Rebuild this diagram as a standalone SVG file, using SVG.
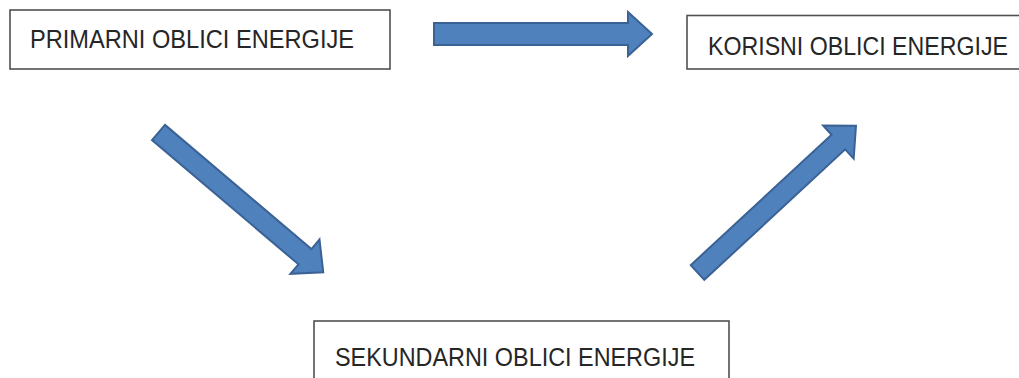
<svg xmlns="http://www.w3.org/2000/svg" width="1019" height="378" viewBox="0 0 1019 378">
  <style>
    .box { fill: #ffffff; stroke: #505050; stroke-width: 1.6; }
    .label { font-family: "Liberation Sans", Arial, sans-serif; font-size: 25px; fill: #262626; }
    .arrow { fill: #4f81bd; stroke: #3b6294; stroke-width: 2; stroke-linejoin: miter; }
  </style>
  <defs>
    <!-- block arrow pointing along +x, tail at origin -->
    <polygon id="blockArrow" points="0,-10 192,-10 192,-22.5 216,0 192,22.5 192,10 0,10"/>
  </defs>
  <rect width="1019" height="378" fill="#ffffff"/>

  <g id="primarni">
    <rect class="box" x="10" y="10" width="380" height="59"/>
    <text class="label" x="30" y="48" textLength="324" lengthAdjust="spacingAndGlyphs">PRIMARNI OBLICI ENERGIJE</text>
  </g>

  <g id="korisni">
    <rect class="box" x="687" y="15.5" width="345" height="53.5"/>
    <text class="label" x="708" y="55" textLength="300" lengthAdjust="spacingAndGlyphs">KORISNI OBLICI ENERGIJE</text>
  </g>

  <g id="sekundarni">
    <rect class="box" x="314" y="321" width="415" height="70"/>
    <text class="label" x="335" y="366" textLength="360" lengthAdjust="spacingAndGlyphs">SEKUNDARNI OBLICI ENERGIJE</text>
  </g>

  <g id="connectors">
    <polygon class="arrow" points="434,23 628,23 628,12 652,34 628,56 628,45 434,45"/>
    <use class="arrow" href="#blockArrow" transform="translate(158.5,132.5) rotate(40.3)"/>
    <use class="arrow" href="#blockArrow" transform="translate(697.5,272.5) rotate(-42.8)"/>
  </g>
</svg>
